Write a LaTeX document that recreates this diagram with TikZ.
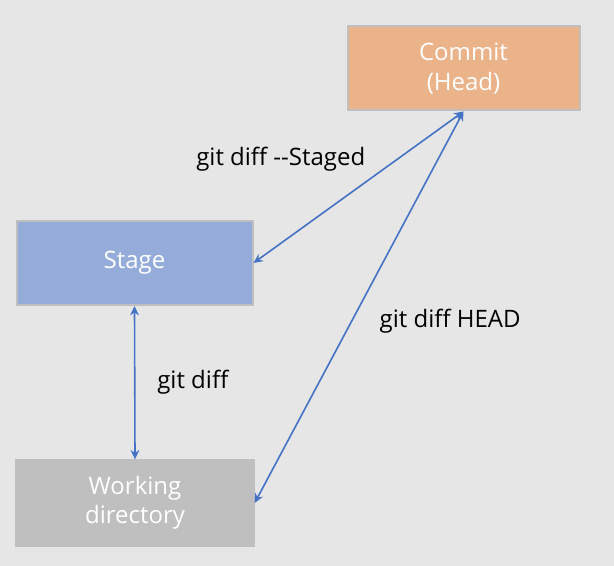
\documentclass[tikz,border=0pt]{standalone}
\usepackage{fontspec}
\setmainfont{Open Sans}
\usetikzlibrary{positioning,arrows.meta}
\definecolor{bgcol}{HTML}{E7E6E6}
\definecolor{boxline}{HTML}{BFBFBF}
\definecolor{commitcol}{HTML}{EBB38A}
\definecolor{stagecol}{HTML}{95ACDB}
\definecolor{workcol}{HTML}{BFBFBF}
\definecolor{arrowcol}{HTML}{4472C4}

\begin{document}
\begin{tikzpicture}[
        x=0.75pt, y=-0.75pt,
        >={Stealth[length=7pt,width=6.5pt]},
        box/.style={draw=boxline, line width=1.5pt, rectangle, minimum width=176pt, minimum height=63pt, align=center, text=white, font=\fontsize{18}{22}\selectfont},
        lbl/.style={font=\fontsize{18}{22}\selectfont, text=black},
        link/.style={<->, draw=arrowcol, line width=1.2pt}
    ]
    % Fond
    \fill[bgcol] (0,0) rectangle (614,566);
    \useasboundingbox (0,0) rectangle (614,566);

    % Boîtes
    \node[box, fill=commitcol, minimum width=174pt] (commit) at (463.5,68.5) {Commit\\(Head)};
    \node[box, fill=stagecol, minimum width=177pt] (stage) at (134.5,263) {Stage};
    \node[box, fill=workcol, draw=workcol, minimum width=178pt, minimum height=64pt] (work) at (135,503) {Working\\directory};

    % Flèches
    \draw[link] (commit.south) -- node[lbl, pos=0.5, anchor=south east, xshift=9pt, yshift=8pt] {git diff -{}-Staged} (stage.east);
    \draw[link] (commit.south) -- node[lbl, pos=0.535, anchor=west, xshift=17pt] {git diff HEAD} (work.east);
    \draw[link] (stage.south) -- node[lbl, midway, anchor=west, xshift=13pt] {git diff} (work.north);
\end{tikzpicture}
\end{document}
